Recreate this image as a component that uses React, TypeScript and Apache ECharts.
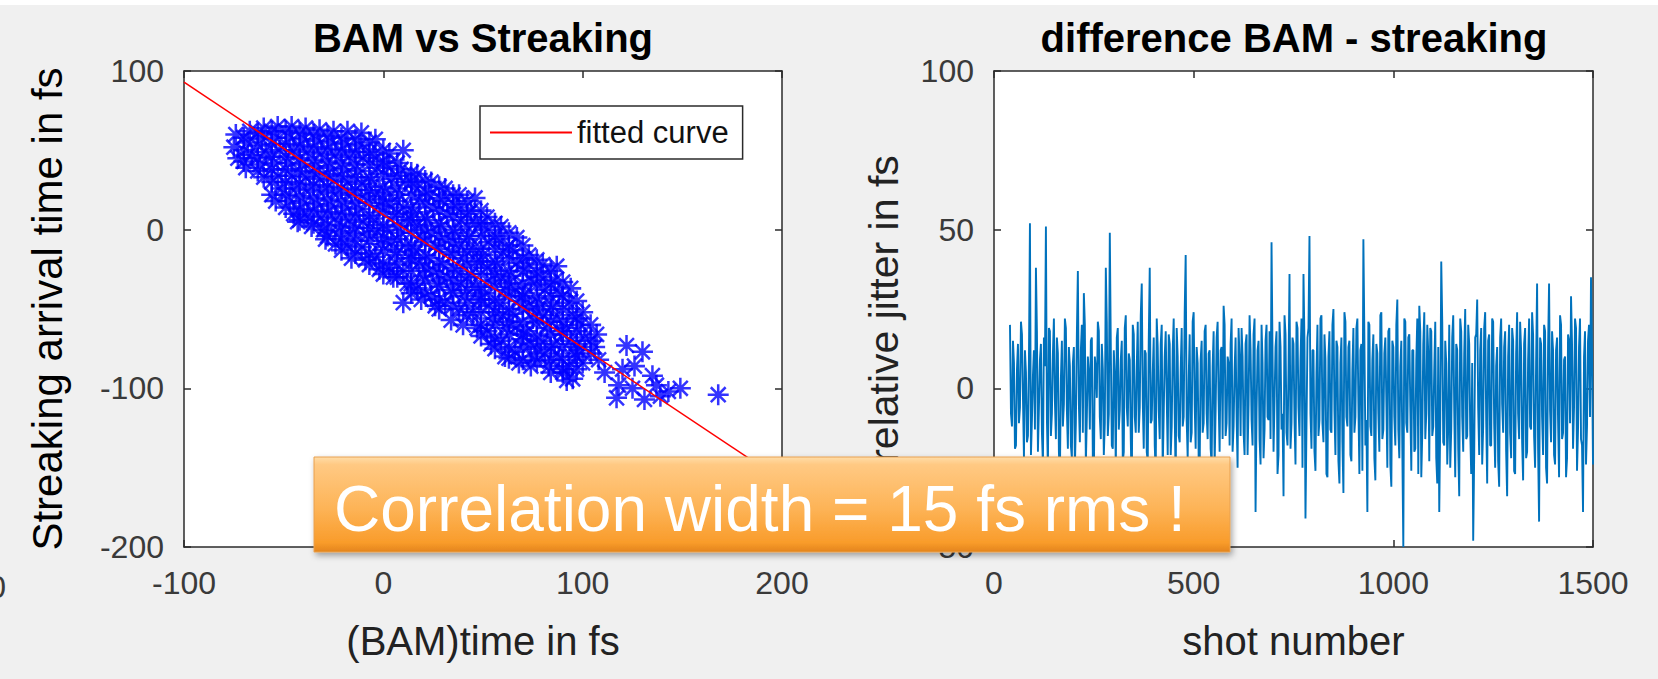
import React, { useEffect, useRef } from "react";
import * as echarts from "echarts";

const FONT = '"Liberation Sans", Arial, Helvetica, sans-serif';

// ---------- left panel: BAM vs Streaking ----------
const leftXTicks = [-100, 0, 100, 200];
const leftYTicks = [-200, -100, 0, 100];
const fitX = [-100, 200];
const fitY = [93, -158];

// [BAM time, streaking arrival time] in fs
const scatterPoints: [number, number][] = [
  [-74, 60], [-75, 52], [-73, 45],
  [-67, 62], [-68, 55], [-66, 47], [-69, 39],
  [-60, 64], [-61, 57], [-59, 49], [-62, 41], [-60, 33],
  [-53, 65], [-54, 58], [-52, 50], [-55, 42], [-53, 34], [-51, 26], [-54, 18],
  [-46, 65], [-47, 58], [-45, 50], [-48, 42], [-46, 34], [-44, 26], [-47, 18], [-45, 10], [-43, 5],
  [-39, 64], [-40, 57], [-38, 49], [-41, 41], [-39, 33], [-37, 25], [-40, 17], [-38, 9], [-36, 2],
  [-32, 63], [-33, 56], [-31, 48], [-34, 40], [-32, 32], [-30, 24], [-33, 16], [-31, 8], [-30, 0], [-29, -6],
  [-25, 62], [-26, 55], [-24, 47], [-27, 39], [-25, 31], [-23, 23], [-26, 15], [-24, 7], [-22, -1], [-24, -9],
  [-18, 62], [-19, 54], [-17, 46], [-20, 38], [-18, 30], [-16, 22], [-19, 14], [-17, 6], [-15, -2], [-18, -10], [-16, -18],
  [-11, 61], [-12, 53], [-10, 45], [-13, 37], [-11, 29], [-9, 21], [-12, 13], [-10, 5], [-8, -3], [-11, -11], [-9, -19],
  [-4, 57], [-5, 47], [-3, 39], [-6, 31], [-4, 23], [-2, 15], [-5, 7], [-3, -1], [-1, -9], [-4, -17], [-2, -25],
  [3, 48], [2, 40], [4, 32], [1, 24], [3, 16], [5, 8], [2, 0], [4, -8], [6, -16], [3, -24], [5, -30],
  [10, 50], [9, 38], [11, 30], [8, 22], [10, 14], [12, 6], [9, -2], [11, -10], [13, -18], [10, -26], [12, -34], [10, -46],
  [17, 35], [16, 27], [18, 19], [15, 11], [17, 3], [19, -5], [16, -13], [18, -21], [20, -29], [17, -37], [19, -44],
  [24, 30], [23, 22], [25, 14], [22, 6], [24, -2], [26, -10], [23, -18], [25, -26], [27, -34], [24, -42], [26, -48],
  [31, 26], [30, 18], [32, 10], [29, 2], [31, -6], [33, -14], [30, -22], [32, -30], [34, -38], [31, -46], [34, -57],
  [38, 22], [37, 14], [39, 6], [36, -2], [38, -10], [40, -18], [37, -26], [39, -34], [41, -42], [38, -50], [40, -60],
  [46, 20], [44, 12], [46, 4], [43, -4], [45, -12], [47, -20], [44, -28], [46, -36], [48, -44], [45, -52], [47, -62],
  [52, 8], [51, 0], [53, -8], [50, -16], [52, -24], [54, -32], [51, -40], [53, -48], [55, -56], [52, -64], [54, -72],
  [59, 2], [58, -6], [60, -14], [57, -22], [59, -30], [61, -38], [58, -46], [60, -54], [62, -62], [59, -70], [61, -80],
  [67, -5], [65, -13], [67, -21], [64, -29], [66, -37], [68, -45], [65, -53], [67, -61], [69, -69], [66, -77], [68, -84],
  [73, -16], [72, -24], [74, -32], [71, -40], [73, -48], [75, -56], [72, -64], [74, -72], [76, -80], [74, -86],
  [80, -22], [79, -30], [81, -38], [78, -46], [80, -54], [82, -62], [79, -70], [81, -78], [83, -86],
  [87, -23], [86, -32], [88, -40], [85, -48], [87, -56], [89, -64], [86, -72], [88, -80], [90, -88], [92, -95],
  [94, -37], [93, -46], [95, -54], [92, -62], [94, -70], [96, -78], [93, -86], [95, -94],
  [100, -52], [99, -60], [101, -68], [98, -76], [100, -84],
  [107, -66], [106, -74], [108, -82],
  [111, -90], [117, -106], [118, -98], [122, -73], [125, -100], [130, -77], [131, -107], [135, -92],
  [137, -98], [139, -105], [143, -102], [149, -100], [168, -104], [126, -86], [120, -88],
];

// more points of the dense core, as [BAM time, list of streaking times] columns
const scatterColumns: [number, number[]][] = [
  [-70, [58, 50, 43]],
  [-63, [61, 53, 45, 37]],
  [-56, [62, 54, 46, 38, 30, 22]],
  [-49, [62, 54, 46, 38, 30, 22, 14]],
  [-42, [61, 53, 45, 37, 29, 21, 13, 6]],
  [-35, [60, 52, 44, 36, 28, 20, 12, 4]],
  [-28, [59, 51, 43, 35, 27, 19, 11, 3, -4]],
  [-21, [58, 50, 42, 34, 26, 18, 10, 2, -6, -13]],
  [-14, [57, 49, 41, 33, 25, 17, 9, 1, -7, -15]],
  [-7, [55, 49, 41, 33, 25, 17, 9, 1, -7, -15, -22]],
  [0, [50, 43, 35, 27, 19, 11, 3, -5, -13, -21, -28]],
  [7, [42, 34, 26, 18, 10, 2, -6, -14, -22, -30]],
  [14, [36, 30, 22, 14, 6, -2, -10, -18, -26, -34, -40]],
  [21, [31, 24, 16, 8, 0, -8, -16, -24, -32, -40]],
  [28, [27, 20, 12, 4, -4, -12, -20, -28, -36, -44, -50]],
  [35, [22, 16, 8, 0, -8, -16, -24, -32, -40, -48]],
  [42, [18, 10, 2, -6, -14, -22, -30, -38, -46, -54]],
  [49, [12, 4, -4, -12, -20, -28, -36, -44, -52, -60, -67]],
  [56, [4, -4, -12, -20, -28, -36, -44, -52, -60, -68, -75]],
  [63, [-2, -10, -18, -26, -34, -42, -50, -58, -66, -74, -81]],
  [70, [-10, -18, -26, -34, -42, -50, -58, -66, -74, -82]],
  [77, [-19, -27, -35, -43, -51, -59, -67, -75, -83]],
  [84, [-26, -34, -42, -50, -58, -66, -74, -82, -90]],
  [90, [-33, -42, -50, -58, -66, -74, -82, -90]],
  [97, [-45, -56, -64, -72, -80, -88]],
  [104, [-60, -70, -78]],
];

// ---------- right panel: difference BAM - streaking ----------
const rightXTicks = [0, 500, 1000, 1500];
const rightYTicks = [-50, 0, 50, 100];
const shotStartA = 40;
const shotStartB = 42.5;
const shotStep = 5;
// relative jitter in fs (two interleaved sample sets)
const jitterA = [
  20, -12, 8, -18, 14, -6, 17, -22, 5, -15,
  52, -10, 12, 38, -20, 9, -14, 16, 51, -25,
  18, -8, 22, -16, 11, -28, 15, -5, 19, -19,
  7, -22, 13, -11, 37, -17, 20, 30, -24, 10,
  -13, 16, -30, 6, 21, -9, 14, -21, 38, -15,
  49, -18, 12, -26, 19, -7, 15, -20, 23, -12,
  9, -33, 17, -14, 21, -6, 33, -19, 11, -23,
  38, -10, 16, -27, 13, -16, 20, -8, 18, -21,
  14, -12, 22, -30, 10, -17, 19, -9, 42, -22,
  17, -14, 24, -19, 8, -26, 15, -11, 20, -16,
  12, -24, 18, -7, 21, -20, 13, 26, -15, 10,
  -18, 22, -12, 16, -25, 9, 19, -14, 14, -21,
  23, -10, 17, -39, 12, -16, 20, -22, 15, -9,
  18, 46, -20, 13, -27, 21, -13, -34, 17, -18,
  36, -11, 14, -24, 19, -15, 22, 36, -41, 16,
  48, -19, 12, -26, 20, -10, 23, -17, 9, -28,
  18, -14, 25, -21, 13, -30, 16, -33, 21, -12,
  15, -23, 19, -9, 22, -27, 14, 47, -18, -39,
  20, -15, 17, -29, 11, -20, 24, -13, 16, -25,
  19, -31, 13, -18, 28, -22, 15, -50, 21, -14,
  17, -26, 12, -19, 22, 26, -28, 14, -16, 20,
  -23, 18, -12, 21, -30, -39, 40, -17, 15, -24,
  20, -13, 23, -28, 12, -34, 18, -20, 25, -15,
  14, -27, -48, 16, 28, -21, 19, -12, 24, -30,
  17, -18, 21, -25, 13, -31, 22, -14, 18, -34,
  20, -22, 15, -27, 24, -16, 12, -29, 19, -20,
  22, -13, 17, -25, 33, -42, 14, -21, 18, -30,
  33, -17, 12, -24, 16, -28, 20, -14, 10, -22,
  15, 29, -19, 22, -26, 13, -16, -39, 18, -12,
  20, 35, -24,
];
const jitterB = [
  -8, 15, -19, 6, -11, 21, -3, 12, -17, 9,
  -21, 4, -13, 18, -6, 14, -24, 7, -10, 19,
  -15, 11, -4, 16, -20, 3, -12, 22, -7, 13,
  -18, 8, -25, 17, -5, 12, -14, 20, -9, 5,
  15, -22, 10, -3, 18, -16, 6, -11, 21, -8,
  13, -19, 4, 16, -13, 9, -23, 19, -6, 11,
  -16, 20, -9, 7, -14, 23, -4, 12, -20, 15,
  -11, 5, -18, 22, -7, 14, -26, 10, -3, 17,
  -21, 12, -8, 19, -15, 6, -12, 24, -10, 3,
  -17, 21, -5, 13, -22, 9, -14, 18, -8, 11,
  -19, 7, -24, 16, -4, 12, -16, 20, -11, 8,
  14, -20, 6, -9, 19, -15, 10, -21, 17, -5,
  12, -18, 22, -7, 15, -24, 8, -13, 20, -10,
  -16, 11, -4, 18, -21, 13, -8, 23, -14, 6,
  -19, 16, -10, 21, -6, 9, -25, 14, -12, 19,
  -8, 12, -20, 5, -15, 22, -11, 17, -27, 10,
  -13, 20, -7, 15, -23, 8, -17, 24, -9, 13,
  -21, 6, -14, 19, -5, 12, -26, 16, -10, 21,
  -12, 9, -22, 14, -8, 23, -16, 11, -4, 18,
  -24, 15, -9, 20, -13, 7, -19, 22, -11, 16,
  -6, 12, -20, 9, -27, 18, -14, 24, -8, 11,
  19, -15, 6, -22, 13, -10, 21, -18, 8, -12,
  -25, 16, -7, 14, -19, 22, -9, 11, -16, 20,
  -13, 8, -21, 17, -6, 12, -24, 19, -10, 15,
  -18, 22, -11, 7, -23, 16, -5, 13, -20, 10,
  -14, 19, -26, 11, -8, 21, -17, 14, -22, 9,
  -12, 24, -15, 8, -19, 16, -9, 20, -25, 13,
  -7, 18, -21, 12, -10, 23, -16, 9, -28, 17,
  -11, 14, -6, 19, -13, 22, -18, 10, -24, 15,
  -9, 12,
];

// Matlab-style "*" marker: four bars of equal width
const ASTERISK =
  "path://M0 8.8 L20 8.8 L20 11.2 L0 11.2 Z " +
  "M8.8 0 L11.2 0 L11.2 20 L8.8 20 Z " +
  "M3.78 2.08 L17.92 16.22 L16.22 17.92 L2.08 3.78 Z " +
  "M16.22 2.08 L17.92 3.78 L3.78 17.92 L2.08 16.22 Z";

const AXIS_COLOR = "#2b2b2b";
const TICK_LABEL_COLOR = "#3a3a3a";

function rangeOf(ticks: number[]) {
  return { min: ticks[0], max: ticks[ticks.length - 1], interval: ticks[1] - ticks[0] };
}

function mainAxis(ticks: number[], gridIndex: number, position: string, extra: any) {
  return {
    type: "value",
    gridIndex,
    position,
    ...rangeOf(ticks),
    splitLine: { show: false },
    axisLine: { show: true, onZero: false, lineStyle: { color: AXIS_COLOR, width: 1.5 } },
    axisTick: { show: true, inside: true, length: 7, lineStyle: { color: AXIS_COLOR, width: 1.5 } },
    axisLabel: {
      show: true,
      fontSize: 32,
      fontFamily: FONT,
      color: TICK_LABEL_COLOR,
      margin: 20,
      formatter: (v: number) => String(v),
    },
    nameTextStyle: { fontFamily: FONT, fontSize: 40, color: "#222" },
    ...extra,
  };
}

function mirrorAxis(ticks: number[], gridIndex: number, position: string) {
  return {
    type: "value",
    gridIndex,
    position,
    ...rangeOf(ticks),
    splitLine: { show: false },
    axisLine: { show: true, onZero: false, lineStyle: { color: AXIS_COLOR, width: 1.5 } },
    axisTick: { show: true, inside: true, length: 7, lineStyle: { color: AXIS_COLOR, width: 1.5 } },
    axisLabel: { show: false },
  };
}

export default function App() {
  const ref = useRef<HTMLDivElement>(null);

  useEffect(() => {
    if (!ref.current) return;
    const chart = echarts.init(ref.current, undefined, { renderer: "svg" });

    const columnPoints: [number, number][] = [];
    scatterColumns.forEach(([x, ys]) => ys.forEach((y) => columnPoints.push([x, y])));
    const allScatter = scatterPoints.concat(columnPoints);

    const jitterData: [number, number][] = [];
    jitterA.forEach((v, i) => {
      jitterData.push([shotStartA + i * shotStep, v]);
      if (i < jitterB.length) jitterData.push([shotStartB + i * shotStep, jitterB[i]]);
    });
    const fitData = fitX.map((x, i) => [x, fitY[i]]);

    const option: any = {
      animation: false,
      backgroundColor: "#f0f0f0",
      grid: [
        { left: 184, top: 71, width: 598, height: 476, show: true, backgroundColor: "#ffffff", borderWidth: 0 },
        { left: 994, top: 71, width: 599, height: 476, show: true, backgroundColor: "#ffffff", borderWidth: 0 },
      ],
      legend: {
        show: true,
        data: [{ name: "fitted curve", icon: "rect" }],
        left: 480,
        top: 106,
        orient: "horizontal",
        backgroundColor: "#ffffff",
        borderColor: AXIS_COLOR,
        borderWidth: 1.5,
        borderRadius: 0,
        padding: [11, 14, 11, 10],
        itemWidth: 82,
        itemHeight: 2,
        itemGap: 5,
        textStyle: { fontFamily: FONT, fontSize: 31, color: "#111" },
      },
      xAxis: [
        mainAxis(leftXTicks, 0, "bottom", {
          name: "(BAM)time in fs",
          nameLocation: "middle",
          nameGap: 74,
        }),
        mirrorAxis(leftXTicks, 0, "top"),
        mainAxis(rightXTicks, 1, "bottom", {
          name: "shot number",
          nameLocation: "middle",
          nameGap: 74,
        }),
        mirrorAxis(rightXTicks, 1, "top"),
      ],
      yAxis: [
        mainAxis(leftYTicks, 0, "left", {
          name: "Streaking arrival time in fs",
          nameLocation: "middle",
          nameGap: 116,
          nameTextStyle: { fontFamily: FONT, fontSize: 42, color: "#000" },
        }),
        mirrorAxis(leftYTicks, 0, "right"),
        mainAxis(rightYTicks, 1, "left", {
          name: "relative jitter in fs",
          nameLocation: "middle",
          nameGap: 90,
          nameTextStyle: { fontFamily: FONT, fontSize: 41, color: "#222" },
        }),
        mirrorAxis(rightYTicks, 1, "right"),
      ],
      series: [
        {
          name: "BAM vs Streaking",
          type: "scatter",
          xAxisIndex: 0,
          yAxisIndex: 0,
          symbol: ASTERISK,
          symbolSize: 21,
          itemStyle: { color: "#0000ff", borderWidth: 0 },
          data: allScatter,
          z: 2,
        },
        {
          name: "fitted curve",
          type: "line",
          xAxisIndex: 0,
          yAxisIndex: 0,
          symbol: "none",
          lineStyle: { color: "#ff0000", width: 1.5 },
          itemStyle: { color: "#ff0000" },
          data: fitData,
          z: 3,
        },
        {
          name: "difference BAM - streaking",
          type: "line",
          xAxisIndex: 2,
          yAxisIndex: 2,
          symbol: "none",
          lineStyle: { color: "#0072BD", width: 1.9 },
          itemStyle: { color: "#0072BD" },
          data: jitterData,
          z: 2,
        },
      ],
      graphic: [
        { type: "rect", z: 0, shape: { x: 0, y: 0, width: 1658, height: 5 }, style: { fill: "#ffffff" } },
        {
          type: "text",
          z: 50,
          x: 483,
          y: 38,
          style: {
            text: "BAM vs Streaking",
            fontFamily: FONT,
            fontSize: 40,
            fontWeight: "bold",
            fill: "#000",
            align: "center",
            verticalAlign: "middle",
          },
        },
        {
          type: "text",
          z: 50,
          x: 1294,
          y: 38,
          style: {
            text: "difference BAM - streaking",
            fontFamily: FONT,
            fontSize: 40,
            fontWeight: "bold",
            fill: "#000",
            align: "center",
            verticalAlign: "middle",
          },
        },
        {
          type: "text",
          z: 50,
          x: 6,
          y: 587,
          style: {
            text: "0",
            fontFamily: FONT,
            fontSize: 32,
            fill: TICK_LABEL_COLOR,
            align: "right",
            verticalAlign: "middle",
          },
        },
        {
          type: "rect",
          z: 100,
          shape: { x: 314, y: 457, width: 916, height: 95 },
          style: {
            fill: {
              type: "linear",
              x: 0,
              y: 0,
              x2: 0,
              y2: 1,
              colorStops: [
                { offset: 0, color: "#FFDDA8" },
                { offset: 0.08, color: "#FFC983" },
                { offset: 0.55, color: "#FDB356" },
                { offset: 0.9, color: "#F99C2B" },
                { offset: 1, color: "#E3841C" },
              ],
            },
            stroke: "#E8A050",
            lineWidth: 1,
            shadowBlur: 6,
            shadowOffsetX: 2,
            shadowOffsetY: 3,
            shadowColor: "rgba(0,0,0,0.35)",
          },
        },
        {
          type: "text",
          z: 101,
          x: 334,
          y: 509,
          style: {
            text: "Correlation width = 15 fs rms !",
            fontFamily: FONT,
            fontSize: 64,
            fill: "#ffffff",
            align: "left",
            verticalAlign: "middle",
          },
        },
      ],
    };

    chart.setOption(option);
    return () => chart.dispose();
  }, []);

  return (
    <div
      ref={ref}
      style={{ position: "fixed", left: 0, top: 0, width: 1658, height: 679 }}
    />
  );
}
